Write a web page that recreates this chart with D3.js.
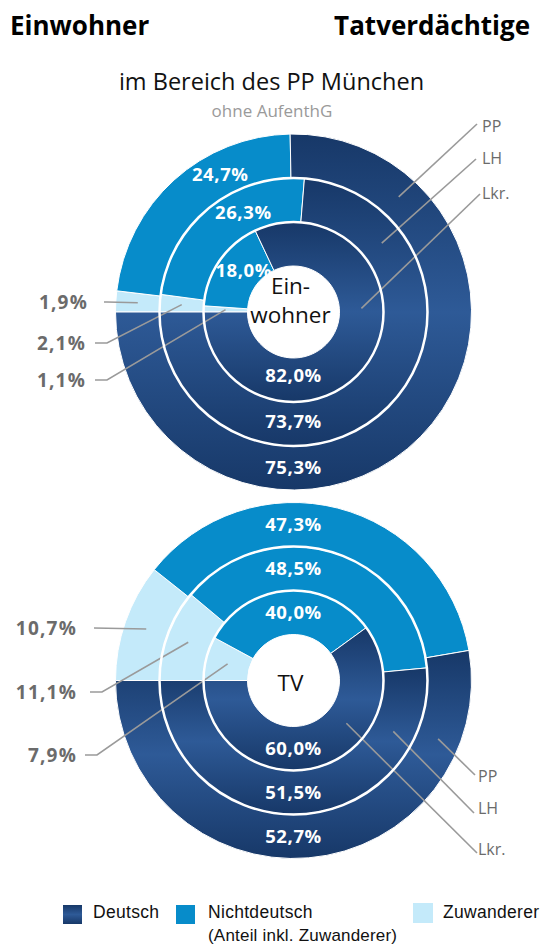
<!DOCTYPE html>
<html lang="de">
<head>
<meta charset="utf-8">
<title>Einwohner / Tatverdächtige</title>
<script src="https://cdn.jsdelivr.net/npm/d3@7"></script>
<style>
  body { margin: 0; background: #fff; }
  svg { display: block; font-family: "Open Sans", sans-serif; }
</style>
</head>
<body>
<svg id="chart"></svg>
<script>
// rings from outside to inside
const rings = ["PP", "LH", "Lkr."];

// Einwohner
const einwDeutsch = [75.3, 73.7, 82.0];
const einwNichtdeutsch = [24.7, 26.3, 18.0];
const einwZuwanderer = [1.9, 2.1, 1.1];

// Tatverdächtige (TV)
const tvDeutsch = [52.7, 51.5, 60.0];
const tvNichtdeutsch = [47.3, 48.5, 40.0];
const tvZuwanderer = [10.7, 11.1, 7.9];

const legendLabels = ["Deutsch", "Nichtdeutsch", "Zuwanderer"];

const width = 541, height = 944;
const colNicht = "#078cca", colZuw = "#c4eafa";
const fmt = v => d3.format(".1f")(v).replace(".", ",") + "%";

const svg = d3.select("#chart").attr("width", width).attr("height", height);

const defs = svg.append("defs");
const grad = defs.append("linearGradient").attr("id", "gDeutsch")
  .attr("x1", 0).attr("y1", 0).attr("x2", 0).attr("y2", 1);
grad.append("stop").attr("offset", "0%").attr("stop-color", "#173868");
grad.append("stop").attr("offset", "50%").attr("stop-color", "#2e5a97");
grad.append("stop").attr("offset", "100%").attr("stop-color", "#173868");

// radius scale: one band per ring, outer = PP
const radius = d3.scaleBand().domain(rings.slice().reverse()).range([46, 178]);
const deg = d => d * Math.PI / 180;

const pie = d3.pie().sort(null).value(d => d.v)
  .startAngle(-Math.PI / 2).endAngle(1.5 * Math.PI);

const charts = [
  {
    cx: 293.5, cy: 312, center: ["Ein-", "wohner"],
    de: einwDeutsch, nd: einwNichtdeutsch, zu: einwZuwanderer,
    ndAngle: [-28, -26.6, -50], ndR: [0, 0, -3], deR: [-1, -3, -5],
    ringLbl: [{a: 42.4, ex: 477, ey: 124, ty: 132}, {a: 52, ex: 476, ey: 159, ty: 164}, {a: 87, ex: 480, ey: 194, ty: 199}],
    zuLbl: [{ty: 302, kx: 107, lx: 104, tx: 88}, {ty: 343, kx: 107, lx: 95, tx: 86}, {ty: 380, kx: 107, lx: 95, tx: 86}]
  },
  {
    cx: 293.5, cy: 680.5, center: ["TV"],
    de: tvDeutsch, nd: tvNichtdeutsch, zu: tvZuwanderer,
    ndAngle: [0, 0, 0], ndR: [0, 0, 0], deR: [0, 0, 0],
    ringLbl: [{a: 112, ex: 475, ey: 775, ty: 782}, {a: 117, ex: 474, ey: 813, ty: 814}, {a: 129, ex: 477, ey: 853, ty: 855}],
    zuLbl: [{ty: 628, kx: 94, lx: 94, tx: 77}, {ty: 692, kx: 102, lx: 90, tx: 77}, {ty: 755, kx: 97, lx: 85, tx: 77}]
  }
];

charts.forEach(c => {
  const g = svg.append("g").attr("transform", `translate(${c.cx},${c.cy})`);

  rings.forEach((ring, i) => {
    const r0 = radius(ring), r1 = r0 + radius.bandwidth();
    const arc = d3.arc().innerRadius(r0).outerRadius(r1);
    const slices = pie([
      {k: "zu", v: c.zu[i]},
      {k: "nd", v: c.nd[i] - c.zu[i]},
      {k: "de", v: c.de[i]}
    ]);
    g.selectAll(null).data(slices).enter().append("path")
      .attr("d", arc)
      .attr("fill", d => d.data.k === "de" ? "url(#gDeutsch)" : d.data.k === "nd" ? colNicht : colZuw)
      .attr("stroke", "#fff").attr("stroke-width", 1);

    const mid = (r0 + r1) / 2;
    // Nichtdeutsch label
    const an = deg(c.ndAngle[i]), rn = mid + c.ndR[i];
    g.append("text")
      .attr("x", rn * Math.sin(an)).attr("y", -rn * Math.cos(an)).attr("dy", "0.36em")
      .attr("text-anchor", "middle").attr("fill", "#fff")
      .attr("font-weight", 700).attr("font-size", 18.5).attr("letter-spacing", 0.6)
      .text(fmt(c.nd[i]));
    // Deutsch label (bottom)
    g.append("text")
      .attr("x", 0).attr("y", mid + c.deR[i]).attr("dy", "0.36em")
      .attr("text-anchor", "middle").attr("fill", "#fff")
      .attr("font-weight", 700).attr("font-size", 18.5).attr("letter-spacing", 0.6)
      .text(fmt(c.de[i]));

    // Zuwanderer leader + label
    const zc = arc.centroid(slices[0]);
    const z = c.zuLbl[i];
    g.append("polyline")
      .attr("points", [[zc[0], zc[1]], [z.kx - c.cx, z.ty - c.cy], [z.lx - c.cx, z.ty - c.cy]].map(p => p.join(",")).join(" "))
      .attr("fill", "none").attr("stroke", "#9a9a9a").attr("stroke-width", 1.6);
    g.append("text")
      .attr("x", z.tx - c.cx).attr("y", z.ty - c.cy).attr("dy", "0.36em")
      .attr("text-anchor", "end").attr("fill", "#6b6b6b")
      .attr("font-weight", 700).attr("font-size", 19).attr("letter-spacing", 1.2)
      .text(fmt(c.zu[i]));

    // ring name leader + label
    const rl = c.ringLbl[i], ar = deg(rl.a);
    g.append("line")
      .attr("x1", mid * Math.sin(ar)).attr("y1", -mid * Math.cos(ar))
      .attr("x2", rl.ex - c.cx).attr("y2", rl.ey - c.cy)
      .attr("stroke", "#9a9a9a").attr("stroke-width", 1.6);
    g.append("text")
      .attr("x", 482 - c.cx - (c.center.length === 1 ? 4 : 0)).attr("y", rl.ty - c.cy)
      .attr("fill", "#6b6b6b").attr("font-size", 16)
      .text(ring);
  });

  // white separators between rings
  [radius("LH"), radius("PP")].forEach(r => {
    g.append("circle").attr("r", r).attr("fill", "none")
      .attr("stroke", "#fff").attr("stroke-width", 2.5);
  });

  // centre label
  const ct = g.append("text").attr("text-anchor", "middle")
    .attr("font-size", 22.5).attr("fill", "#111");
  if (c.center.length === 2) {
    ct.append("tspan").attr("x", -3).attr("y", -18).text(c.center[0]);
    ct.append("tspan").attr("x", -3).attr("y", 11).text(c.center[1]);
  } else {
    ct.append("tspan").attr("x", -3).attr("y", 10.5).text(c.center[0]);
  }
});

// titles
svg.append("text").attr("x", 10).attr("y", 35)
  .attr("font-size", 26).attr("font-weight", 700).attr("fill", "#000")
  .text("Einwohner");
svg.append("text").attr("x", 530).attr("y", 35).attr("text-anchor", "end")
  .attr("font-size", 26).attr("font-weight", 700).attr("fill", "#000")
  .text("Tatverdächtige");
svg.append("text").attr("x", 271.5).attr("y", 90).attr("text-anchor", "middle")
  .attr("font-size", 23.5).attr("fill", "#111")
  .text("im Bereich des PP München");
svg.append("text").attr("x", 272).attr("y", 117).attr("text-anchor", "middle")
  .attr("font-size", 17).attr("fill", "#9a9a9a")
  .text("ohne AufenthG");

// legend
const legend = [
  {x: 63, y: 905, s: 19, tx: 93, fill: "url(#gDeutsch)"},
  {x: 176, y: 905, s: 19, tx: 208, fill: colNicht},
  {x: 413, y: 903, s: 20, tx: 443, fill: colZuw}
];
const lg = svg.append("g").attr("font-family", "'Liberation Sans', Arial, sans-serif");
legend.forEach((l, i) => {
  lg.append("rect").attr("x", l.x).attr("y", l.y).attr("width", l.s).attr("height", l.s).attr("fill", l.fill);
  lg.append("text").attr("x", l.tx).attr("y", 918).attr("font-size", 17.5)
    .attr("letter-spacing", 0.3).attr("fill", "#111").text(legendLabels[i]);
});
lg.append("text").attr("x", 208).attr("y", 941).attr("font-size", 17)
  .attr("letter-spacing", 0.2).attr("fill", "#111").text("(Anteil inkl. Zuwanderer)");
</script>
</body>
</html>
